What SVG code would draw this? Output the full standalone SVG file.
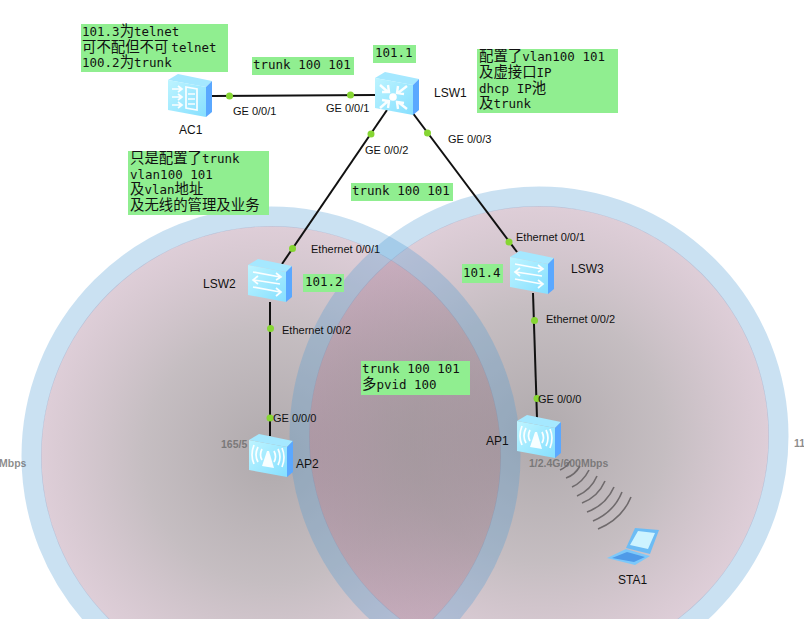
<svg xmlns="http://www.w3.org/2000/svg" xmlns:xlink="http://www.w3.org/1999/xlink" width="804" height="619" viewBox="0 0 804 619">
<style>
.lab{font-family:"Liberation Sans",Arial,sans-serif;font-size:11px;fill:#111}
.nm{font-family:"Liberation Sans",Arial,sans-serif;font-size:12px;fill:#111}
.gr{font-family:"Liberation Sans",Arial,sans-serif;font-size:10.5px;font-weight:bold;fill:#666;fill-opacity:.75}
.note{fill:#90ee90}
.t{font-family:"DejaVu Sans Mono","Liberation Mono","Noto Sans CJK SC",monospace;font-size:12.5px;fill:#111}
.c{font-family:"Noto Sans CJK SC",sans-serif;font-size:14.4px}
.link{stroke:#111;stroke-width:2;fill:none}
.dot{fill:#86d633}
.ring{stroke:#4f9bd5;stroke-opacity:.3;stroke-width:20;fill:none}
.wave{stroke:#6f6a6c;stroke-width:1.6;fill:none}
.w{fill:#fff;fill-opacity:.92}
.ws{stroke:#fff;stroke-opacity:.95;fill:none;stroke-width:1.7}
.wt{stroke:#fff;stroke-opacity:.95;fill:none;stroke-width:2.4}
</style>
<defs>
<radialGradient id="rg">
<stop offset="0" stop-color="#6e6469" stop-opacity=".55"/>
<stop offset=".55" stop-color="#75636c" stop-opacity=".42"/>
<stop offset="1" stop-color="#9b6a88" stop-opacity=".33"/>
</radialGradient>
<linearGradient id="fr" x1="0" y1="0" x2="1" y2="1">
<stop offset="0" stop-color="#bdf4ff"/><stop offset="1" stop-color="#86dfff"/>
</linearGradient>
<g id="box">
<polygon points="0,6 10,0 44,7 38,13" fill="#a5e8ff"/>
<polygon points="0,6 38,13 38,43 0,36" fill="url(#fr)"/>
<polygon points="38,13 44,7 44,38 38,43" fill="#5aa8ff"/>
</g>
<g id="sw">
<use xlink:href="#box" href="#box"/>
<path class="ws" d="M5,13 L32,18 M28,14 L33,18 L28,21 M32,25 L6,21 M10,17 L5,21 L10,25 M5,28 L32,33 M28,29 L33,33 L28,37"/>
</g>
<g id="ap">
<use xlink:href="#box" href="#box"/>
<polygon class="w" points="18,17 20,17 25,34 13,32"/>
<path class="ws" d="M13,15 Q10,21 13,26 M9,13 Q5,21 9,28 M5,11 Q1,21 5,30 M25,17 Q28,23 25,28 M29,15 Q33,23 29,31 M33,14 Q37,23 33,33"/>
</g>
</defs>

<g id="coverage">
<circle cx="271" cy="456" r="230" fill="url(#rg)"/>
<circle cx="539" cy="436" r="230" fill="url(#rg)"/>
<circle class="ring" cx="271" cy="456" r="239.500"/>
<circle class="ring" cx="539" cy="436" r="239.500"/>
</g>

<g id="rates">
<text class="gr" x="221" y="448">165/5</text>
<text class="gr" x="-1" y="467">Mbps</text>
<text class="gr" x="529" y="467">1/2.4G/600Mbps</text>
<text class="gr" x="794" y="447">11</text>
</g>

<g id="connectors">
<path class="link" d="M212,96 L375,95"/>
<path class="link" d="M387,110 L282,264"/>
<path class="link" d="M412,112 L517,252"/>
<path class="link" d="M270,302 L270,436"/>
<path class="link" d="M533,293 L537,418"/>
<circle class="dot" cx="229.500" cy="96" r="3.500"/>
<circle class="dot" cx="350.500" cy="95" r="3.500"/>
<circle class="dot" cx="371" cy="134" r="3.500"/>
<circle class="dot" cx="427.500" cy="133" r="3.500"/>
<circle class="dot" cx="292.500" cy="248.500" r="3.500"/>
<circle class="dot" cx="509" cy="242" r="3.500"/>
<circle class="dot" cx="270.500" cy="328.500" r="3.500"/>
<circle class="dot" cx="534.500" cy="320.500" r="3.500"/>
<circle class="dot" cx="270" cy="418" r="3.500"/>
<circle class="dot" cx="537" cy="398.500" r="3.500"/>
<text class="lab" x="233" y="115">GE 0/0/1</text>
<text class="lab" x="326" y="112">GE 0/0/1</text>
<text class="lab" x="365" y="154">GE 0/0/2</text>
<text class="lab" x="448" y="143">GE 0/0/3</text>
<text class="lab" x="311" y="253">Ethernet 0/0/1</text>
<text class="lab" x="516" y="241">Ethernet 0/0/1</text>
<text class="lab" x="282" y="334">Ethernet 0/0/2</text>
<text class="lab" x="546" y="323">Ethernet 0/0/2</text>
<text class="lab" x="273" y="422">GE 0/0/0</text>
<text class="lab" x="538" y="403">GE 0/0/0</text>
</g>

<g id="wifi">
<path class="wave" d="M560,470 Q567,467 570,461"/>
<path class="wave" d="M566,478 Q575,475 580,466"/>
<path class="wave" d="M572,487 Q583,482 589,470"/>
<path class="wave" d="M577,496 Q591,490 597,476"/>
<path class="wave" d="M582,503 Q598,497 605,481"/>
<path class="wave" d="M587,512 Q606,505 614,487"/>
<path class="wave" d="M593,521 Q614,512 622,492"/>
<path class="wave" d="M598,529 Q622,519 631,497"/>
</g>

<g id="AC1">
<use xlink:href="#box" href="#box" x="168" y="74"/>
<g transform="translate(168,74)">
<path class="ws" d="M4,15 H13 M10,12 L14,15 L10,18 M4,23 H13 M10,20 L14,23 L10,26 M4,31 H13 M10,28 L14,31 L10,34"/>
<path class="ws" d="M18,13 L29,15 V36 L18,34 Z M20,20 H27 M20,25 H27 M20,30 H27"/>
</g>
<text class="nm" x="179" y="134">AC1</text>
</g>
<g id="LSW1">
<use xlink:href="#box" href="#box" x="375" y="72"/>
<g transform="translate(375,72)">
<circle cx="18" cy="25" r="3.800" fill="#fff"/>
<path class="wt" d="M5,13 L13,20 M7,20 L14,20 L13,13 M32,14 L23,21 M23,14 L22,21 L29,22 M5,36 L13,29 M7,28 L14,29 L13,36 M32,37 L23,30 M23,37 L22,30 L29,31"/>
</g>
<text class="nm" x="434" y="97">LSW1</text>
</g>
<g id="LSW2">
<use xlink:href="#sw" href="#sw" x="248" y="259"/>
<text class="nm" x="203" y="288">LSW2</text>
</g>
<g id="LSW3">
<use xlink:href="#sw" href="#sw" x="510" y="251"/>
<text class="nm" x="571" y="273">LSW3</text>
</g>
<g id="AP2">
<use xlink:href="#ap" href="#ap" x="249" y="434"/>
<text class="nm" x="296" y="468">AP2</text>
</g>
<g id="AP1">
<use xlink:href="#ap" href="#ap" x="517" y="415"/>
<text class="nm" x="486" y="445">AP1</text>
</g>
<g id="STA1">
<polygon points="635,528 659,530 650,554 626,548" fill="#6cbcf5"/>
<polygon points="638,531 655,533 648,549 630,545" fill="#cdf3ff"/>
<polygon points="607,558 626,549 650,556 635,565" fill="#7cc8fa"/>
<path d="M612,558 L627,552 L645,557 L634,562 Z" fill="#4f9ae8"/>
<text class="nm" x="618" y="584">STA1</text>
</g>

<g id="notes">
<rect class="note" x="81" y="24" width="147" height="48"/>
<text class="t" x="82" y="36">101.3<tspan class="c">为</tspan>telnet</text>
<text class="t" x="82" y="52"><tspan class="c">可不配但不可</tspan><tspan dx="3">telnet</tspan></text>
<text class="t" x="82" y="67">100.2<tspan class="c">为</tspan>trunk</text>
<rect class="note" x="252" y="57" width="102" height="18"/>
<text class="t" x="253" y="69">trunk 100 101</text>
<rect class="note" x="373" y="45" width="43" height="18"/>
<text class="t" x="375" y="57">101.1</text>
<rect class="note" x="477" y="49" width="141" height="64"/>
<text class="t" x="479" y="61"><tspan class="c">配置了</tspan>vlan100 101</text>
<text class="t" x="479" y="77"><tspan class="c">及虚接口</tspan>IP</text>
<text class="t" x="479" y="93">dhcp IP<tspan class="c">池</tspan></text>
<text class="t" x="479" y="108"><tspan class="c">及</tspan>trunk</text>
<rect class="note" x="128" y="151" width="141" height="64"/>
<text class="t" x="130" y="163"><tspan class="c">只是配置了</tspan>trunk</text>
<text class="t" x="130" y="179">vlan100 101</text>
<text class="t" x="130" y="194"><tspan class="c">及</tspan>vlan<tspan class="c">地址</tspan></text>
<text class="t" x="130" y="210"><tspan class="c">及无线的管理及业务</tspan></text>
<rect class="note" x="351" y="183" width="102" height="18"/>
<text class="t" x="352" y="195">trunk 100 101</text>
<rect class="note" x="303" y="274" width="41" height="18"/>
<text class="t" x="305" y="286">101.2</text>
<rect class="note" x="462" y="264" width="41" height="19"/>
<text class="t" x="463" y="277">101.4</text>
<rect class="note" x="361" y="361" width="109" height="34"/>
<text class="t" x="362" y="373">trunk 100 101</text>
<text class="t" x="362" y="389"><tspan class="c">多</tspan>pvid 100</text>
</g>
</svg>
